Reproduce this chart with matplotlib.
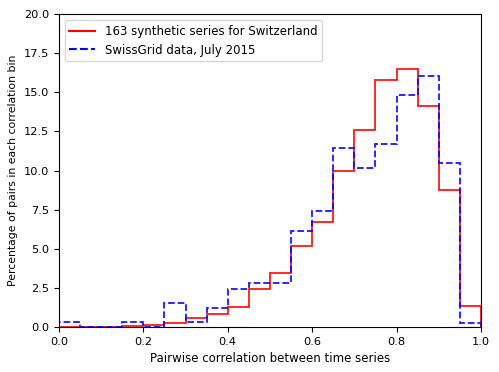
import numpy as np
import matplotlib.pyplot as plt

# bin edges, 0.05 wide
edges = np.linspace(0, 1, 21)
synthetic = [0.0, 0.02, 0.02, 0.04, 0.13, 0.26, 0.55, 0.83, 1.30, 2.41,
             3.47, 5.20, 6.73, 9.97, 12.61, 15.76, 16.49, 14.12, 8.73, 1.34]
swissgrid = [0.30, 0.0, 0.0, 0.30, 0.0, 1.53, 0.30, 1.21, 2.45, 2.79,
             2.79, 6.16, 7.39, 11.42, 10.16, 11.71, 14.85, 16.06, 10.48, 0.28]

fig = plt.figure(figsize=(4.99, 3.72), dpi=100)
ax = fig.add_axes([0.118, 0.121, 0.846, 0.841])

centers = edges[:-1] + 0.025
ax.hist(centers, bins=edges, weights=synthetic, histtype='step',
        color='r', linestyle='-', linewidth=1.3, alpha=0.9)
ax.hist(centers, bins=edges, weights=swissgrid, histtype='step',
        color='b', linestyle='--', linewidth=1.3, alpha=0.9)

# line handles for the legend
ax.plot([], [], color='r', linestyle='-', label='163 synthetic series for Switzerland')
ax.plot([], [], color='b', linestyle='--', label='SwissGrid data, July 2015')

ax.set_xlim(0, 1)
ax.set_ylim(0, 20)
ax.tick_params(labelsize=8.2)
ax.set_xlabel('Pairwise correlation between time series', fontsize=8.45)
ax.set_ylabel('Percentage of pairs in each correlation bin', fontsize=7.8)
ax.legend(loc='upper left', fontsize=8.45, handlelength=2.2)

fig.savefig('out.png', dpi=100)
